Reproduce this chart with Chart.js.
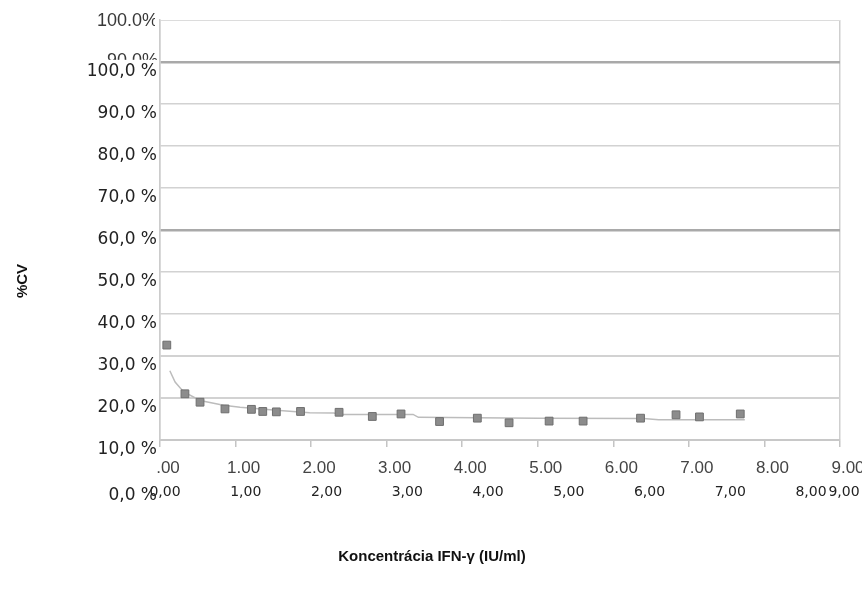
<!DOCTYPE html>
<html>
<head>
<meta charset="utf-8">
<script src="https://cdn.jsdelivr.net/npm/chart.js@4.4.1/dist/chart.umd.min.js"></script>
<style>
  html, body { margin: 0; padding: 0; background: #fff; }
  #wrap { width: 862px; height: 599px; }
</style>
</head>
<body>
<div id="wrap"><canvas id="cvChart"></canvas></div>
<script>
// measured samples: IFN-g concentration (IU/ml) vs %CV
const concentration = [0.09, 0.33, 0.53, 0.86, 1.21, 1.36, 1.54, 1.86, 2.37, 2.81, 3.19, 3.70, 4.20, 4.62, 5.15, 5.60, 6.36, 6.83, 7.14, 7.68];
const cvPercent = [32.6, 21.0, 19.0, 17.4, 17.3, 16.8, 16.7, 16.8, 16.6, 15.6, 16.2, 14.4, 15.2, 14.1, 14.5, 14.5, 15.2, 16.0, 15.5, 16.2];

// fitted trend line
const trendX = [0.13, 0.20, 0.31, 0.53, 0.84, 1.06, 1.54, 1.98, 2.30, 2.40, 3.35, 3.42, 4.20, 5.00, 6.40, 6.60, 7.74];
const trendY = [26.5, 23.8, 21.5, 19.4, 18.3, 17.8, 17.1, 16.5, 16.4, 16.1, 16.1, 15.4, 15.3, 15.2, 15.1, 14.8, 14.8];

// tick labels (the picture carries two sets of labels on top of each other)
const yTickLabels = ['10,0 %', '20,0 %', '30,0 %', '40,0 %', '50,0 %', '60,0 %', '70,0 %', '80,0 %', '90,0 %', '100,0 %', ''];
const yOldLabels = ['100.0%', '90.0%'];
const yZeroLabel = '0,0 %';
const xTickLabels = ['.00', '1.00', '2.00', '3.00', '4.00', '5.00', '6.00', '7.00', '8.00', '9.00'];
const xOverlayLabels = ['0,00', '1,00', '2,00', '3,00', '4,00', '5,00', '6,00', '7,00', '8,00', '9,00'];

const xTitle = 'Koncentrácia IFN-γ (IU/ml)';
const yTitle = '%CV';

// extra texts that sit outside what the axes draw
const extraText = {
  id: 'extraText',
  beforeDraw(chart) {
    // old labels go under the axis, so the tick backdrops hide part of them
    const { ctx } = chart;
    const y = chart.scales.y;
    ctx.save();
    ctx.font = '18px "Liberation Sans", Arial, sans-serif';
    ctx.fillStyle = '#383838';
    ctx.textAlign = 'right';
    ctx.textBaseline = 'middle';
    ctx.fillText(yOldLabels[0], y.right - 2, y.getPixelForValue(110) + 1);
    ctx.fillText(yOldLabels[1], y.right - 2, y.getPixelForValue(100) - 1);
    ctx.restore();
  },
  afterDraw(chart) {
    const { ctx } = chart;
    const y = chart.scales.y;
    ctx.save();
    ctx.font = '17px "DejaVu Sans", sans-serif';
    ctx.fillStyle = '#222';
    ctx.textAlign = 'right';
    ctx.textBaseline = 'middle';
    ctx.fillText(yZeroLabel, y.right - 3, y.getPixelForValue(0) + 14);

    ctx.translate(23, 281);
    ctx.rotate(-Math.PI / 2);
    ctx.font = 'bold 15px "Liberation Sans", Arial, sans-serif';
    ctx.fillStyle = '#111';
    ctx.textAlign = 'center';
    ctx.fillText(yTitle, 0, 0);
    ctx.restore();
  }
};

function gridColor(v) {
  if (v === 100 || v === 60) return '#a9a9a9';
  if (v === 110) return '#dcdcdc';
  return '#d2d2d2';
}
function gridWidth(v) {
  if (v === 100 || v === 60) return 2.5;
  if (v === 30 || v === 20) return 2;
  if (v === 110) return 1;
  return 1.5;
}

// the x axes must not push the plot area in from the right
function fixHorizontal(height) {
  return (s) => {
    s.height = height;
    s.paddingLeft = 0;
    s.paddingRight = 0;
  };
}

const ctx = document.getElementById('cvChart').getContext('2d');
const cvChart = new Chart(ctx, {
  type: 'scatter',
  data: {
    datasets: [{
      label: '%CV',
      data: concentration.map((c, i) => ({ x: c, y: cvPercent[i] })),
      pointStyle: 'rect',
      pointRadius: 5.5,
      backgroundColor: '#8c8c8c',
      borderColor: '#6f6f6f',
      borderWidth: 1
    }, {
      label: 'trend',
      data: trendX.map((c, i) => ({ x: c, y: trendY[i] })),
      showLine: true,
      pointRadius: 0,
      borderColor: '#bcbcbc',
      borderWidth: 1.5,
      tension: 0
    }]
  },
  options: {
    responsive: true,
    maintainAspectRatio: false,
    animation: false,
    layout: { padding: { top: 20, right: 22, bottom: 0, left: 24 } },
    plugins: {
      legend: { display: false },
      tooltip: { enabled: false },
      title: {
        display: true,
        position: 'bottom',
        text: xTitle,
        color: '#111',
        font: { family: '"Liberation Sans", Arial, sans-serif', size: 15, weight: 'bold' },
        padding: { top: 0, bottom: 33 }
      }
    },
    scales: {
      x: {
        type: 'linear',
        position: 'bottom',
        min: 0,
        max: 9,
        afterFit: fixHorizontal(38),
        ticks: {
          stepSize: 1,
          padding: 11,
          labelOffset: 8,
          color: '#444',
          font: { family: '"Liberation Sans", Arial, sans-serif', size: 17 },
          callback: (v, i) => xTickLabels[i]
        },
        grid: {
          color: (c) => (c.index === 0 || c.index === 9) ? '#cfcfcf' : 'rgba(0,0,0,0)',
          tickColor: '#c4c4c4',
          tickLength: 7,
          lineWidth: 1.5
        },
        border: { color: '#c8c8c8', width: 2 }
      },
      x2: {
        type: 'linear',
        axis: 'x',
        position: 'bottom',
        min: -0.062,
        max: 8.359,
        afterFit: fixHorizontal(70),
        afterBuildTicks: (s) => {
          // last label is squeezed in just past the right edge
          s.ticks = xOverlayLabels.map((l, i) => ({ value: i < 9 ? i : 8.409 }));
        },
        ticks: {
          padding: 6,
          color: '#222',
          font: { family: '"DejaVu Sans", sans-serif', size: 14 },
          callback: (v, i) => xOverlayLabels[i]
        },
        grid: { display: false, drawTicks: false },
        border: { display: false }
      },
      y: {
        min: 10,
        max: 110,
        afterFit: (s) => { s.width = 136; },
        ticks: {
          stepSize: 10,
          padding: 3,
          labelOffset: 10,
          color: '#222',
          font: { family: '"DejaVu Sans", sans-serif', size: 17 },
          showLabelBackdrop: true,
          backdropColor: '#ffffff',
          backdropPadding: 2,
          callback: (v, i) => yTickLabels[i]
        },
        grid: {
          drawTicks: false,
          color: (c) => gridColor(c.tick.value),
          lineWidth: (c) => gridWidth(c.tick.value)
        },
        border: { color: '#cccccc', width: 1.5 }
      }
    }
  },
  plugins: [extraText]
});
</script>
</body>
</html>
